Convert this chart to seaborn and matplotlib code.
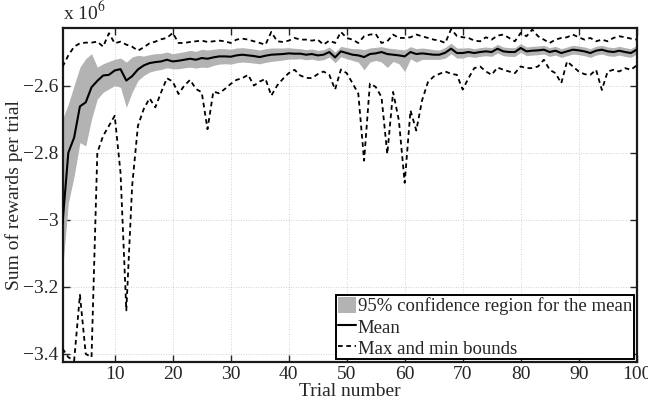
import numpy as np
import pandas as pd
import seaborn as sns
import matplotlib.pyplot as plt
from matplotlib.ticker import FuncFormatter
from matplotlib.patches import Patch
from matplotlib.lines import Line2D

# values in units of 1e6
trials = list(range(1, 101))

mean_reward = [
    -3.010, -2.800, -2.755, -2.662, -2.650, -2.605, -2.586, -2.570, -2.568, -2.555,
    -2.551, -2.585, -2.572, -2.552, -2.540, -2.533, -2.530, -2.528, -2.523, -2.528,
    -2.526, -2.523, -2.520, -2.523, -2.518, -2.520, -2.516, -2.513, -2.513, -2.514,
    -2.510, -2.508, -2.510, -2.512, -2.515, -2.511, -2.508, -2.507, -2.506, -2.504,
    -2.505, -2.505, -2.508, -2.506, -2.510, -2.508, -2.500, -2.516, -2.498, -2.503,
    -2.508, -2.510, -2.515, -2.506, -2.504, -2.500, -2.506, -2.508, -2.510, -2.513,
    -2.500, -2.506, -2.504, -2.506, -2.508, -2.508, -2.502, -2.490, -2.503, -2.503,
    -2.500, -2.503, -2.500, -2.498, -2.500, -2.490, -2.498, -2.500, -2.500, -2.488,
    -2.498, -2.496, -2.495, -2.493, -2.500, -2.496, -2.503, -2.498, -2.493, -2.495,
    -2.498, -2.503, -2.496, -2.493, -2.498, -2.500, -2.496, -2.500, -2.503, -2.493,
]

ci_low = [
    -3.150, -2.950, -2.870, -2.770, -2.780, -2.700, -2.640, -2.620, -2.610, -2.600,
    -2.605, -2.665, -2.620, -2.585, -2.570, -2.560, -2.555, -2.552, -2.547, -2.550,
    -2.550, -2.547, -2.545, -2.548, -2.545, -2.546, -2.540, -2.536, -2.535, -2.536,
    -2.532, -2.530, -2.531, -2.533, -2.535, -2.531, -2.528, -2.526, -2.524, -2.521,
    -2.521, -2.520, -2.523, -2.521, -2.525, -2.523, -2.515, -2.532, -2.514, -2.520,
    -2.525, -2.530, -2.553, -2.530, -2.525, -2.530, -2.546, -2.528, -2.535, -2.558,
    -2.520, -2.530, -2.522, -2.522, -2.522, -2.522, -2.518, -2.505, -2.518, -2.518,
    -2.513, -2.516, -2.513, -2.511, -2.513, -2.503, -2.511, -2.513, -2.513, -2.501,
    -2.511, -2.509, -2.508, -2.506, -2.513, -2.509, -2.516, -2.511, -2.506, -2.508,
    -2.511, -2.516, -2.509, -2.506, -2.511, -2.513, -2.509, -2.513, -2.516, -2.506,
]

ci_high = [
    -2.700, -2.655, -2.600, -2.545, -2.520, -2.505, -2.545, -2.535, -2.528, -2.522,
    -2.518, -2.530, -2.515, -2.510, -2.512, -2.508, -2.505, -2.504, -2.500, -2.505,
    -2.502, -2.499, -2.495, -2.498, -2.492, -2.494, -2.492, -2.490, -2.490, -2.492,
    -2.488, -2.487, -2.489, -2.491, -2.494, -2.490, -2.488, -2.488, -2.488, -2.487,
    -2.489, -2.490, -2.493, -2.491, -2.495, -2.493, -2.485, -2.500, -2.483, -2.487,
    -2.490, -2.490, -2.493, -2.488, -2.486, -2.484, -2.488, -2.490, -2.492, -2.494,
    -2.484, -2.490, -2.488, -2.490, -2.493, -2.494, -2.486, -2.474, -2.488, -2.488,
    -2.487, -2.490, -2.487, -2.485, -2.487, -2.477, -2.485, -2.487, -2.487, -2.475,
    -2.485, -2.483, -2.482, -2.480, -2.487, -2.483, -2.490, -2.485, -2.480, -2.482,
    -2.485, -2.490, -2.483, -2.480, -2.485, -2.487, -2.483, -2.487, -2.490, -2.480,
]

max_reward = [
    -2.544, -2.510, -2.484, -2.474, -2.472, -2.472, -2.469, -2.484, -2.444, -2.474,
    -2.469, -2.478, -2.484, -2.496, -2.486, -2.474, -2.469, -2.462, -2.458, -2.443,
    -2.473, -2.473, -2.470, -2.468, -2.466, -2.470, -2.468, -2.466, -2.468, -2.473,
    -2.463, -2.460, -2.463, -2.468, -2.473, -2.478, -2.440, -2.468, -2.470, -2.466,
    -2.458, -2.463, -2.463, -2.466, -2.463, -2.478, -2.466, -2.473, -2.440, -2.458,
    -2.463, -2.473, -2.453, -2.448, -2.446, -2.473, -2.468, -2.448, -2.458, -2.458,
    -2.456, -2.448, -2.453, -2.458, -2.463, -2.466, -2.473, -2.432, -2.452, -2.456,
    -2.458, -2.466, -2.468, -2.456, -2.463, -2.451, -2.448, -2.458, -2.468, -2.443,
    -2.453, -2.433, -2.453, -2.463, -2.473, -2.463, -2.458, -2.456, -2.448, -2.456,
    -2.463, -2.458, -2.468, -2.463, -2.468, -2.458, -2.453, -2.456, -2.460, -2.463,
]

min_reward = [
    -3.384, -3.410, -3.420, -3.224, -3.400, -3.410, -2.800, -2.750, -2.720, -2.690,
    -2.860, -3.270, -2.900, -2.720, -2.670, -2.638, -2.665, -2.620, -2.578, -2.588,
    -2.625, -2.600, -2.583, -2.610, -2.620, -2.730, -2.618, -2.623, -2.610, -2.595,
    -2.583, -2.578, -2.568, -2.600, -2.588, -2.580, -2.630, -2.600, -2.580, -2.563,
    -2.553, -2.570, -2.577, -2.578, -2.566, -2.558, -2.568, -2.612, -2.552, -2.563,
    -2.593, -2.624, -2.824, -2.594, -2.604, -2.634, -2.804, -2.619, -2.704, -2.890,
    -2.674, -2.734, -2.644, -2.590, -2.573, -2.565, -2.558, -2.565, -2.568, -2.612,
    -2.578, -2.548, -2.543, -2.558, -2.568, -2.546, -2.553, -2.558, -2.563, -2.543,
    -2.548, -2.548, -2.543, -2.523, -2.553, -2.563, -2.593, -2.528, -2.543, -2.558,
    -2.566, -2.568, -2.553, -2.613, -2.558, -2.553, -2.558, -2.548, -2.553, -2.540,
]

df = pd.DataFrame({'Trial': trials, 'Mean': mean_reward, 'Low': ci_low,
                   'High': ci_high, 'Max': max_reward, 'Min': min_reward})

sns.set_style('ticks')
plt.rcParams['font.family'] = ['Liberation Serif', 'DejaVu Serif']
plt.rcParams['mathtext.fontset'] = 'stix'
plt.rcParams['font.size'] = 14

fig = plt.figure(figsize=(6.48, 4.03), dpi=100)
ax = fig.add_axes([0.0965, 0.101, 0.886, 0.829])

ax.fill_between(df['Trial'], df['Low'], df['High'], color='#b3b3b3', linewidth=0, zorder=2)
sns.lineplot(x='Trial', y='Mean', data=df, color='black', linewidth=1.5, ax=ax, zorder=3)
sns.lineplot(x='Trial', y='Max', data=df, color='black', linewidth=1.3, ax=ax, zorder=3)
sns.lineplot(x='Trial', y='Min', data=df, color='black', linewidth=1.3, ax=ax, zorder=3)
for ln in ax.lines[1:3]:
    ln.set_dashes((2.6, 2.0))

ax.set_xlim(1, 100)
ax.set_ylim(-3.425, -2.429)
ax.set_xticks([10, 20, 30, 40, 50, 60, 70, 80, 90, 100])
ax.set_yticks([-3.4, -3.2, -3.0, -2.8, -2.6])
ax.yaxis.set_major_formatter(FuncFormatter(lambda v, p: ('%g' % round(v, 1)).replace('-', '\u2212')))
ax.grid(True, linestyle=(0, (1, 2)), color='#c4c4c4', linewidth=0.6)
ax.set_axisbelow(True)
ax.tick_params(direction='in', length=5, width=1, top=True, right=True, labelsize=14, pad=3)
for s in ax.spines.values():
    s.set_linewidth(1.6)
    s.set_color('#1a1a1a')

ax.set_xlabel('Trial number', fontsize=14, labelpad=0)
ax.set_ylabel('Sum of rewards per trial', fontsize=14, labelpad=0)
ax.text(0.0, 1.015, 'x 10$^{6}$', transform=ax.transAxes, fontsize=14, ha='left', va='bottom')

handles = [Patch(facecolor='#b3b3b3', edgecolor='none'),
           Line2D([], [], color='black', linewidth=1.5),
           Line2D([], [], color='black', linewidth=1.3, dashes=(2.6, 2.0))]
labels = ['95% confidence region for the mean', 'Mean', 'Max and min bounds']
leg = ax.legend(handles, labels, loc='lower right', fontsize=13.5, frameon=True, fancybox=False,
                edgecolor='black', framealpha=1, borderaxespad=0.15, borderpad=0.1,
                handlelength=0.95, handleheight=1.0, handletextpad=0.1, labelspacing=0.12)
leg.get_frame().set_linewidth(1.4)

fig.savefig('out.png', dpi=100)
